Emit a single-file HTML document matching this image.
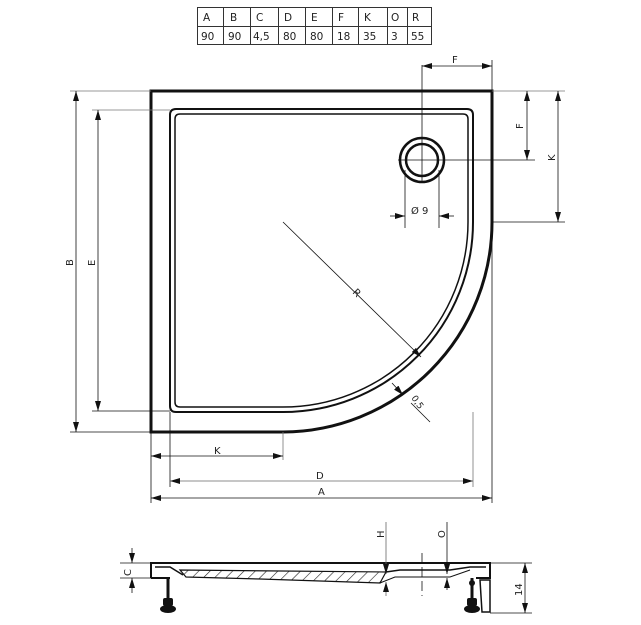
<!DOCTYPE html>
<html><head><meta charset="utf-8"><style>
html,body{margin:0;padding:0;background:#fff}
svg{display:block}
text{font-family:"DejaVu Sans","Liberation Sans",sans-serif;fill:#222}
</style></head><body>
<svg width="641" height="625" viewBox="0 0 641 625" xmlns="http://www.w3.org/2000/svg">
<defs>
<marker id="a" viewBox="0 0 10 6" refX="10" refY="3" markerWidth="10" markerHeight="6" orient="auto-start-reverse" markerUnits="userSpaceOnUse"><path d="M0,0 L10,3 L0,6z" fill="#111"/></marker>
<pattern id="h" width="8" height="8" patternUnits="userSpaceOnUse" patternTransform="rotate(45)"><line x1="0" y1="0" x2="0" y2="8" stroke="#222" stroke-width="1.2"/></pattern>
</defs>
<g stroke="#333" stroke-width="1" fill="none">
<rect x="197.5" y="7.5" width="234" height="37"/>
<line x1="197" y1="26.5" x2="431" y2="26.5"/>
<line x1="223.5" y1="7" x2="223.5" y2="44"/><line x1="250.5" y1="7" x2="250.5" y2="44"/>
<line x1="278.5" y1="7" x2="278.5" y2="44"/><line x1="305.5" y1="7" x2="305.5" y2="44"/>
<line x1="332.5" y1="7" x2="332.5" y2="44"/><line x1="358.5" y1="7" x2="358.5" y2="44"/>
<line x1="387.5" y1="7" x2="387.5" y2="44"/><line x1="407.5" y1="7" x2="407.5" y2="44"/>
</g>
<g font-size="10.5">
<text x="203" y="21">A</text><text x="230" y="21">B</text><text x="256" y="21">C</text><text x="284" y="21">D</text><text x="311" y="21">E</text><text x="338" y="21">F</text><text x="364" y="21">K</text><text x="391" y="21">O</text><text x="412" y="21">R</text>
<text x="201" y="40">90</text><text x="228" y="40">90</text><text x="253" y="40">4,5</text><text x="283" y="40">80</text><text x="310" y="40">80</text><text x="337" y="40">18</text><text x="363" y="40">35</text><text x="391" y="40">3</text><text x="411" y="40">55</text>
</g>
<path d="M151,91 L492,91 L492,222 A210,210 0 0 1 283,432 L151,432 Z" fill="none" stroke="#111" stroke-width="3"/>
<path d="M170,115 Q170,109 176,109 L467,109 Q473,109 473,115 L473,222 A190,190 0 0 1 283,412 L176,412 Q170,412 170,406 Z" fill="none" stroke="#111" stroke-width="2"/>
<path d="M175,119 Q175,114 180,114 L463,114 Q468,114 468,119 L468,222 A185,185 0 0 1 283,407 L180,407 Q175,407 175,402 Z" fill="none" stroke="#111" stroke-width="1.5"/>
<circle cx="422" cy="160" r="22" fill="none" stroke="#111" stroke-width="2.5"/>
<circle cx="422" cy="160" r="16" fill="none" stroke="#111" stroke-width="2.5"/>
<g stroke="#111" stroke-width="0.8" fill="none">
<line x1="422" y1="65" x2="422" y2="182"/><line x1="398" y1="160" x2="535" y2="160"/>
<line x1="405" y1="170" x2="405" y2="228"/><line x1="439" y1="170" x2="439" y2="228"/>
<line x1="390" y1="216" x2="405" y2="216" marker-end="url(#a)"/><line x1="454" y1="216" x2="439" y2="216" marker-end="url(#a)"/>
<line x1="492" y1="60" x2="492" y2="91"/>
<line x1="422" y1="66" x2="492" y2="66" marker-start="url(#a)" marker-end="url(#a)"/>
<line x1="492" y1="91" x2="565" y2="91" stroke="#777"/>
<line x1="527" y1="91" x2="527" y2="160" marker-start="url(#a)" marker-end="url(#a)"/>
<line x1="492" y1="222" x2="565" y2="222"/>
<line x1="558" y1="91" x2="558" y2="222" marker-start="url(#a)" marker-end="url(#a)"/>
<line x1="70" y1="91" x2="151" y2="91" stroke="#777"/><line x1="70" y1="432" x2="151" y2="432"/>
<line x1="76" y1="91" x2="76" y2="432" marker-start="url(#a)" marker-end="url(#a)"/>
<line x1="92" y1="110" x2="170" y2="110" stroke="#777"/><line x1="92" y1="411" x2="170" y2="411"/>
<line x1="98" y1="110" x2="98" y2="411" marker-start="url(#a)" marker-end="url(#a)"/>
<line x1="151" y1="432" x2="151" y2="503"/><line x1="492" y1="222" x2="492" y2="503"/>
<line x1="170" y1="412" x2="170" y2="487"/><line x1="473" y1="412" x2="473" y2="487" stroke="#777"/>
<line x1="283" y1="432" x2="283" y2="460" stroke="#777"/>
<line x1="151" y1="456" x2="283" y2="456" marker-start="url(#a)" marker-end="url(#a)"/>
<line x1="170" y1="481" x2="473" y2="481" marker-start="url(#a)" marker-end="url(#a)" stroke="#666"/>
<line x1="151" y1="498" x2="492" y2="498" marker-start="url(#a)" marker-end="url(#a)"/>
<line x1="283" y1="222" x2="421" y2="357" marker-end="url(#a)"/>
<line x1="392" y1="383" x2="403" y2="395" marker-end="url(#a)"/>
<line x1="430" y1="422" x2="411" y2="403"/>
</g>
<g font-size="10">
<text x="452" y="63">F</text>
<text x="411" y="214">Ø 9</text>
<text x="214" y="454">K</text><text x="316" y="479">D</text><text x="318" y="495">A</text>
<text x="354" y="296" transform="rotate(45 357 292)">R</text>
<text x="0" y="0" transform="translate(523,129) rotate(-90)">F</text>
<text x="0" y="0" transform="translate(555,161) rotate(-90)">K</text>
<text x="0" y="0" transform="translate(73,266) rotate(-90)">B</text>
<text x="0" y="0" transform="translate(95,266) rotate(-90)">E</text>
<text x="0" y="0" transform="translate(411,398) rotate(55)" font-size="9">0,5</text>
</g>
<path d="M180,570 L386,572 L380,583 L260,579 L186,577 Z" fill="url(#h)" stroke="#111" stroke-width="1.2"/>
<g stroke="#111" fill="none">
<path d="M151,578 L151,563 L490,563 L490,578 L476,578" stroke-width="2"/>
<line x1="151" y1="578" x2="170" y2="578" stroke-width="2"/>
<path d="M155,567 L170,567 L183,575" stroke-width="1.5"/>
<path d="M386,572 L400,570 L450,570 L470,567 L486,567" stroke-width="1.5"/>
<path d="M380,583 L395,577 L450,577 L470,570" stroke-width="1"/>
<line x1="168" y1="578" x2="168" y2="598" stroke-width="3"/>
<line x1="472" y1="578" x2="472" y2="598" stroke-width="3"/>
<path d="M480,580 L490,580 L490,612 L482,612 Z" stroke-width="1.5"/>
<line x1="120" y1="563" x2="151" y2="563" stroke-width="0.8"/><line x1="120" y1="578" x2="151" y2="578" stroke-width="0.8"/>
<line x1="132" y1="548" x2="132" y2="563" stroke-width="0.8" marker-end="url(#a)"/>
<line x1="132" y1="593" x2="132" y2="578" stroke-width="0.8" marker-end="url(#a)"/>
<line x1="386" y1="522" x2="386" y2="574" stroke-width="0.8" stroke="#666" marker-end="url(#a)"/>
<line x1="386" y1="596" x2="386" y2="582" stroke-width="0.8" stroke="#666" marker-end="url(#a)"/>
<line x1="447" y1="522" x2="447" y2="574" stroke-width="0.8" marker-end="url(#a)"/>
<line x1="447" y1="590" x2="447" y2="578" stroke-width="0.8" marker-end="url(#a)"/>
<line x1="422" y1="553" x2="422" y2="596" stroke-width="0.8" stroke-dasharray="10,4"/>
<line x1="490" y1="563" x2="532" y2="563" stroke-width="0.8"/><line x1="490" y1="613" x2="532" y2="613" stroke-width="0.8"/>
<line x1="525" y1="563" x2="525" y2="613" stroke-width="0.8" marker-start="url(#a)" marker-end="url(#a)"/>
</g>
<g fill="#111">
<rect x="163" y="598" width="10" height="8" rx="2"/><ellipse cx="168" cy="609" rx="8" ry="4"/>
<rect x="467" y="598" width="10" height="8" rx="2"/><ellipse cx="472" cy="609" rx="8" ry="4"/>
<circle cx="472" cy="583" r="3"/>
</g>
<g font-size="10">
<text x="0" y="0" transform="translate(131,576) rotate(-90)">C</text>
<text x="0" y="0" transform="translate(384,538) rotate(-90)">H</text>
<text x="0" y="0" transform="translate(445,538) rotate(-90)">O</text>
<text x="0" y="0" transform="translate(522,596) rotate(-90)">14</text>
</g>
</svg>
</body></html>
